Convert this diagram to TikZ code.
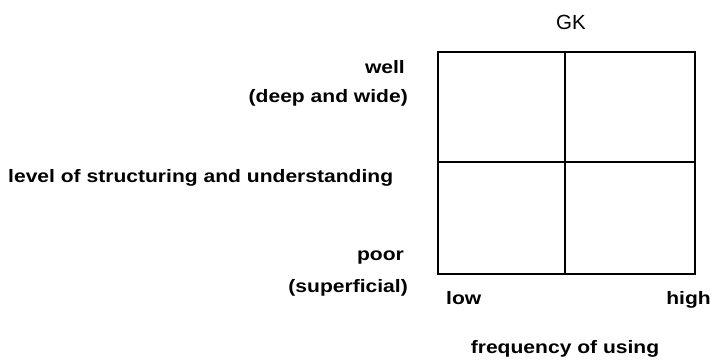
\documentclass[tikz,border=0pt]{standalone}
\usepackage{fontspec}
\setmainfont{Liberation Sans}
\newfontfamily\lblfont[FakeStretch=1.17]{Liberation Sans Bold}
\begin{document}
\begin{tikzpicture}[x=1pt,y=-1pt,
  lbl/.style={font=\lblfont\fontsize{18}{20}\selectfont, inner sep=0pt},
  grid/.style={draw=black, line width=1.3pt}]
\useasboundingbox (0,0) rectangle (714,359);
\node[font=\fontsize{20.5}{23}\selectfont, inner sep=0pt, anchor=base] (gk) at (571,29) {GK};
\coordinate (tl) at (438,52);
\coordinate (br) at (695,274);
\draw[grid] (tl) rectangle (br);
\coordinate (mt) at (565,52); \coordinate (mb) at (565,274);
\coordinate (ml) at (438,162); \coordinate (mr) at (695,162);
\draw[grid] (mt) -- (mb);
\draw[grid] (ml) -- (mr);
\node[lbl, anchor=base east] (well) at (405,73) {well};
\node[lbl, anchor=base east] (deep) at (408,102) {(deep and wide)};
\node[lbl, anchor=base west] (level) at (8,182) {level of structuring and understanding};
\node[lbl, anchor=base east] (poor) at (404,260) {poor};
\node[lbl, anchor=base east] (sup) at (408,292) {(superficial)};
\node[lbl, anchor=base west] (low) at (446,304) {low};
\node[lbl, anchor=base east] (high) at (711,304) {high};
\node[lbl, anchor=base] (freq) at (565,353) {frequency of using};
\end{tikzpicture}
\end{document}
